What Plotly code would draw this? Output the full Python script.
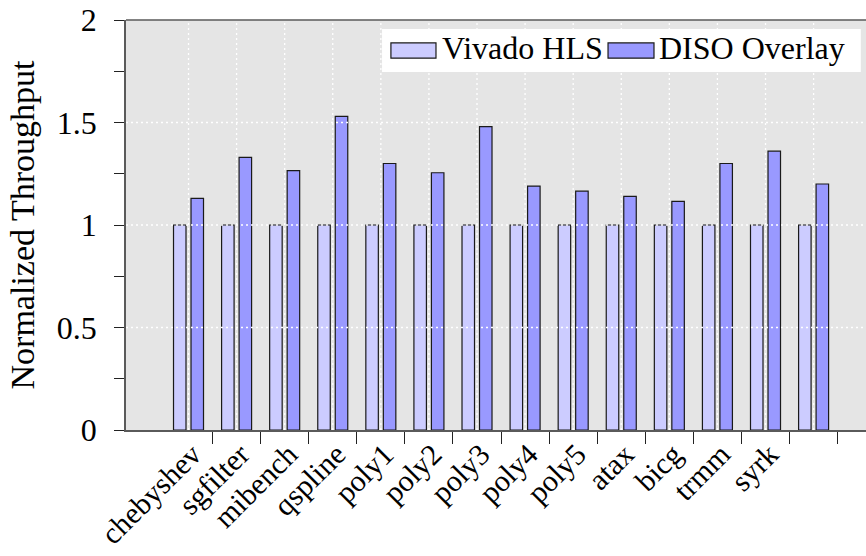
import plotly.graph_objects as go

# Benchmarks (tick labels) and normalized throughput per bar group
benchmarks = ["chebyshev", "sgfilter", "mibench", "qspline", "poly1", "poly2",
              "poly3", "poly4", "poly5", "atax", "bicg", "trmm", "syrk", ""]
vivado_hls = [1.0, 1.0, 1.0, 1.0, 1.0, 1.0, 1.0,
              1.0, 1.0, 1.0, 1.0, 1.0, 1.0, 1.0]
diso_overlay = [1.13, 1.33, 1.265, 1.53, 1.30, 1.255, 1.48,
                1.19, 1.165, 1.14, 1.115, 1.30, 1.36, 1.20]
series_names = ["Vivado HLS", "DISO Overlay"]
y_ticks = [0, 0.5, 1, 1.5, 2]
y_tick_text = ["0", "0.5", "1", "1.5", "2"]

groups = list(range(len(vivado_hls)))
tick_pos = [g + 0.5 for g in groups]

FONT = "Times New Roman, Liberation Serif, DejaVu Serif, serif"
FS = 32
C_LIGHT = "#CCCCFF"
C_DARK = "#9999FF"
EDGE = "#1a1a1a"
AXIS = "#5a5a5a"

fig = go.Figure()
fig.add_trace(go.Bar(x=groups, y=vivado_hls, name=series_names[0],
                     width=0.26, offset=-0.312,
                     marker=dict(color=C_LIGHT, line=dict(color=EDGE, width=1.2))))
fig.add_trace(go.Bar(x=groups, y=diso_overlay, name=series_names[1],
                     width=0.26, offset=0.052,
                     marker=dict(color=C_DARK, line=dict(color=EDGE, width=1.2))))

shapes = []
# dotted white grid drawn over the bars
for yv in y_ticks[1:-1]:
    shapes.append(dict(type="line", xref="paper", yref="y", x0=0, x1=1, y0=yv, y1=yv,
                       line=dict(color="white", width=1.3, dash="2px,3px"), layer="above"))
for g in groups:
    shapes.append(dict(type="line", xref="x", yref="paper", x0=g, x1=g, y0=0, y1=1,
                       line=dict(color="white", width=1.3, dash="2px,3px"), layer="above"))
# top frame line
shapes.append(dict(type="line", xref="paper", yref="paper", x0=0, x1=1, y0=1, y1=1,
                   line=dict(color=AXIS, width=1.5), layer="above"))

# legend: white box, two swatches and labels
shapes.append(dict(type="rect", xref="paper", yref="paper", x0=0.346, x1=0.993,
                   y0=0.873, y1=0.978, fillcolor="white", line=dict(width=0), layer="above"))
swatches = [(0.358, 0.4189, C_LIGHT), (0.6514, 0.7135, C_DARK)]
for x0, x1, col in swatches:
    shapes.append(dict(type="rect", xref="paper", yref="paper", x0=x0, x1=x1,
                       y0=0.907, y1=0.944, fillcolor=col,
                       line=dict(color=EDGE, width=1.2), layer="above"))

annotations = []
for name, xl in zip(series_names, [0.4243, 0.7176]):
    annotations.append(dict(text=name, xref="paper", yref="paper", x=xl, y=0.9317,
                            xanchor="left", yanchor="middle", showarrow=False,
                            font=dict(family=FONT, size=FS, color="black")))

fig.update_layout(
    width=866, height=556, autosize=False,
    margin=dict(l=126, r=0, t=20, b=126, autoexpand=False),
    paper_bgcolor="white", plot_bgcolor="#E5E5E5",
    barmode="overlay", showlegend=False,
    font=dict(family=FONT, size=FS, color="black"),
    shapes=shapes, annotations=annotations,
)
fig.update_xaxes(
    range=[-1.30, 14.09], tickmode="array", tickvals=tick_pos, ticktext=benchmarks,
    tickangle=-45, ticks="outside", ticklen=12, tickcolor="#222", tickwidth=1.2,
    showgrid=False, zeroline=False, showline=True, linecolor=AXIS, linewidth=1.5,
    tickfont=dict(family=FONT, size=30), automargin=False,
    ticklabelshift=-20, ticklabelstandoff=-19,
)
fig.update_yaxes(
    range=[0, 2], tickmode="array", tickvals=y_ticks, ticktext=y_tick_text,
    ticks="outside", ticklen=10, tickcolor="#222", tickwidth=1.2,
    minor=dict(dtick=0.25, ticks="outside", ticklen=10, tickcolor="#222", tickwidth=1.2, showgrid=False),
    showgrid=False, zeroline=False, showline=True, linecolor=AXIS, linewidth=1.5,
    tickfont=dict(family=FONT, size=FS), ticklabelstandoff=11, automargin=False,
    title=dict(text="Normalized Throughput", font=dict(family=FONT, size=34), standoff=12),
)

fig.write_html("out.html")
